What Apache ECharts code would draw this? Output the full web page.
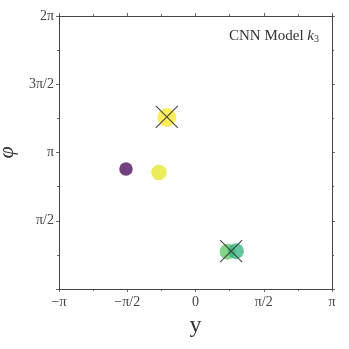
<!DOCTYPE html>
<html>
<head>
<meta charset="utf-8">
<script src="https://cdn.jsdelivr.net/npm/echarts@6/dist/echarts.min.js"></script>
<style>
  html, body { margin: 0; padding: 0; background: #fff; }
  #chart { width: 349px; height: 349px; }
</style>
</head>
<body>
<div id="chart"></div>
<script>
const PI = Math.PI

// predicted points (y, phi) with a colour value on viridis and a score for the marker size
const predY = [-1.60, -0.84, -0.66, 0.74, 0.93]
const predPhi = [2.76, 2.68, 3.95, 0.86, 0.87]
const predColorVal = [0.0, 0.96, 1.0, 0.74, 0.64]
const predScore = [0.45, 0.65, 1.0, 0.7, 0.7]

// true positions, drawn as crosses
const truthY = [-0.66, 0.82]
const truthPhi = [3.96, 0.87]

const xTickLabels = ['−π', '−π/2', '0', 'π/2', 'π']
const yTickLabels = ['', 'π/2', 'π', '3π/2', '2π']

const viridis = ['#440154', '#482878', '#3e4989', '#31688e', '#26828e',
  '#1f9e89', '#35b779', '#6ece58', '#b5de2b', '#fde725']

const axisColor = '#444'
const font = '"Liberation Serif", "DejaVu Serif", serif'

function tickIdx(v, start) {
  return Math.round((v - start) / (PI / 2))
}

const frameAxis = {
  type: 'value',
  interval: PI / 2,
  axisLine: { show: true, onZero: false, lineStyle: { color: axisColor, width: 1 } },
  axisTick: { show: true, inside: false, length: 3, lineStyle: { color: axisColor, width: 0.8 } },
  minorTick: { show: true, splitNumber: 2, length: 2, lineStyle: { color: axisColor, width: 0.8 } },
  splitLine: { show: false },
  minorSplitLine: { show: false }
}

const chart = echarts.init(document.getElementById('chart'))

chart.setOption({
  animation: false,
  backgroundColor: '#fff',
  title: {
    text: 'CNN Model {i|k}{s|3}',
    right: 25,
    top: 23,
    textStyle: {
      fontFamily: font,
      fontSize: 15,
      fontWeight: 'normal',
      color: '#333',
      rich: {
        i: { fontFamily: font, fontSize: 15, fontStyle: 'italic', color: '#333' },
        s: { fontFamily: font, fontSize: 10, color: '#333', verticalAlign: 'bottom', padding: [6, 0, 0, 0] }
      }
    }
  },
  grid: { left: 59, right: 17, top: 16, bottom: 60, outerBoundsMode: 'none', containLabel: false },
  visualMap: {
    show: false,
    seriesIndex: 0,
    dimension: 2,
    min: 0,
    max: 1,
    inRange: { color: viridis }
  },
  xAxis: [
    Object.assign({}, frameAxis, {
      min: -PI,
      max: PI,
      position: 'bottom',
      name: 'y',
      nameLocation: 'middle',
      nameGap: 24,
      nameTextStyle: { fontFamily: font, fontSize: 24, color: '#333' },
      axisLabel: {
        show: true,
        margin: 6,
        fontFamily: font,
        fontSize: 14,
        color: '#444',
        formatter: v => xTickLabels[tickIdx(v, -PI)]
      }
    }),
    Object.assign({}, frameAxis, {
      min: -PI,
      max: PI,
      position: 'top',
      axisLabel: { show: false }
    })
  ],
  yAxis: [
    Object.assign({}, frameAxis, {
      min: 0,
      max: 2 * PI,
      position: 'left',
      name: 'φ',
      nameLocation: 'middle',
      nameGap: 38,
      nameRotate: 90,
      nameTextStyle: { fontFamily: font, fontSize: 22, fontStyle: 'italic', color: '#333' },
      axisLabel: {
        show: true,
        margin: 5,
        fontFamily: font,
        fontSize: 14,
        color: '#444',
        formatter: v => yTickLabels[tickIdx(v, 0)]
      }
    }),
    Object.assign({}, frameAxis, {
      min: 0,
      max: 2 * PI,
      position: 'right',
      axisLabel: { show: false }
    })
  ],
  series: [
    {
      type: 'scatter',
      xAxisIndex: 0,
      yAxisIndex: 0,
      data: predY.map((y, i) => [y, predPhi[i], predColorVal[i], predScore[i]]),
      symbol: 'circle',
      symbolSize: d => 9 + 10 * d[3],
      itemStyle: { opacity: 0.75 },
      z: 2
    },
    {
      type: 'scatter',
      xAxisIndex: 0,
      yAxisIndex: 0,
      data: truthY.map((y, i) => [y, truthPhi[i]]),
      symbol: 'path://M0 0L10 10M10 0L0 10',
      symbolSize: 22,
      itemStyle: { color: 'none', borderColor: '#333', borderWidth: 1.1, opacity: 0.9 },
      z: 3
    }
  ]
})
</script>
</body>
</html>
